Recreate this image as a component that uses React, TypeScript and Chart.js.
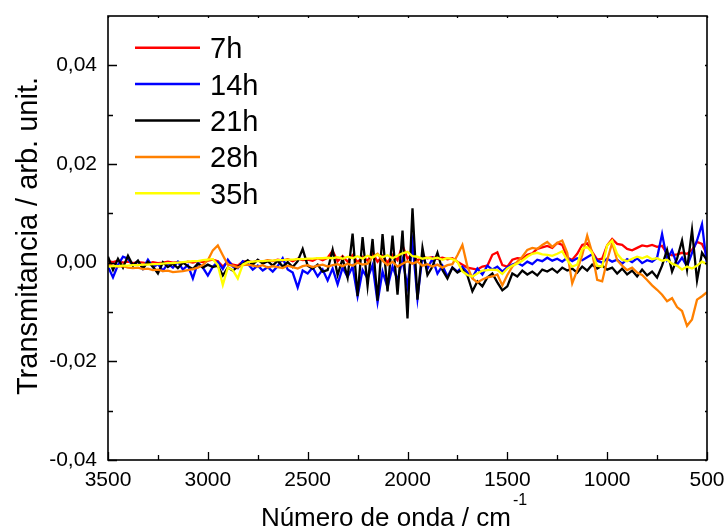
import React, { useEffect, useRef } from "react";
import { Chart, registerables } from "chart.js";

Chart.register(...registerables);

// Wavenumber grid (cm^-1)
const wavenumbers = [
  3500, 3475, 3450, 3425, 3400, 3375, 3350, 3325, 3300, 3275,
  3250, 3225, 3200, 3175, 3150, 3125, 3100, 3075, 3050, 3025,
  3000, 2975, 2950, 2925, 2900, 2875, 2850, 2825, 2800, 2775,
  2750, 2725, 2700, 2675, 2650, 2625, 2600, 2575, 2550, 2525,
  2500, 2475, 2450, 2425, 2400, 2375, 2350, 2325, 2300, 2275,
  2250, 2225, 2200, 2175, 2150, 2125, 2100, 2075, 2050, 2025,
  2000, 1975, 1950, 1925, 1900, 1875, 1850, 1825, 1800, 1775,
  1750, 1725, 1700, 1675, 1650, 1625, 1600, 1575, 1550, 1525,
  1500, 1475, 1450, 1425, 1400, 1375, 1350, 1325, 1300, 1275,
  1250, 1225, 1200, 1175, 1150, 1125, 1100, 1075, 1050, 1025,
  1000, 975, 950, 925, 900, 875, 850, 825, 800, 775,
  750, 725, 700, 675, 650, 625, 600, 575, 550, 525,
  500,
];

// Transmitancia values, in units of 10^-3 arb. unit.
const t7h = [
  0.3, 0.1, 0.4, 0.0, 0.2, -0.1, 0.1, 0.0, -0.2, 0.1,
  -0.1, 0.0, 0.2, 0.0, 0.1, -0.1, 0.2, 0.0, 0.3, 0.1,
  0.4, 0.6, 0.3, -0.8, 0.2, -0.4, -0.6, 0.2, 0.3, 0.1,
  0.4, 0.2, 0.5, 0.3, 0.6, 0.4, 0.7, 0.3, 0.8, 0.5,
  0.6, 0.4, 0.9, 0.5, 1.0, 2.4, 0.3, 1.3, 0.2, 1.5,
  0.1, 1.2, 0.4, 1.9, 0.2, 1.4, 0.0, 1.6, 0.5, 3.5,
  0.8, 1.8, 0.4, 1.2, 0.9, 1.1, 0.8, 1.0, 0.7, 0.9,
  0.2, -0.4, -1.0, -1.2, -1.4, -0.8, -0.6, 1.6, 2.1, -0.5,
  -0.8, 0.6, 0.9, 0.8, 1.6, 1.9, 2.8, 3.1, 3.4, 3.0,
  4.0, 3.6, 1.0, 0.6, 1.8, 3.6, 3.9, 2.2, 0.6, 0.8,
  3.5, 4.8, 3.8, 3.6, 2.8, 2.5, 3.0, 3.5, 3.3, 3.6,
  3.2, 3.4, 1.8, 1.5, 1.7, 2.0, 1.8, 2.6, 4.2, 3.8,
  1.6,
];

const t14h = [
  -0.8, -3.0, -0.5, 1.2, 0.8, -0.6, 0.3, -1.2, 0.6, -0.9,
  -0.3, -1.6, -0.2, -1.0, 0.2, -1.4, -0.5, -3.2, 0.0, -1.0,
  -2.6, -0.8, 0.2, -1.3, 0.6, -0.8, -1.1, 0.3, -0.2, -1.4,
  -0.6, -1.6, -0.9, -1.8, -0.7, 0.9, -1.4, -2.0, -5.0, -1.6,
  -2.2, -1.0, -2.8, -1.4, -3.6, -1.2, -4.4, -1.0, -2.9, -0.8,
  -6.8, -1.5, -3.2, -0.5, -8.0, -1.8, -5.0, -0.8, -3.5, 0.5,
  -4.8, 4.0, -7.2, 1.5, -1.2, 0.8, -2.2, -0.6, -2.8, -1.0,
  -1.8, -0.8, -2.0, -3.0, -1.2, -2.4, -0.6, -1.4, -0.8, -1.8,
  -0.9, -0.4, 0.0, -0.6, 0.2, -0.3, 0.6, 0.3, 1.0, 0.4,
  0.8, 0.2, 1.0, 0.3, 0.9, 0.5, 1.1, 1.7, 0.4, 0.0,
  0.8, 0.2, 0.6, -0.2, 0.7, 0.1, 0.9, -0.1, 0.5, 0.2,
  1.0, 5.8, 0.6, 2.5, -0.4, 1.0, -0.8, 2.0, 4.5, 7.8,
  -0.5,
];

const t21h = [
  1.2, -1.5, 0.8, -1.0, 1.4, -0.6, 0.4, -1.2, 0.2, -0.8,
  -2.2, 0.1, -0.9, -0.2, -1.1, 0.0, -0.7, -1.3, -0.2, -1.0,
  -0.4, -0.9, -0.6, -2.6, -1.0, -1.6, -0.8, -0.3, 0.5, -0.4,
  0.6, -0.2, 0.3, -0.6, 0.4, -0.8, 0.1, -0.9, 0.3, 2.8,
  -0.6, -1.2, -0.4, -1.8, -1.5, 2.6, -2.5, 0.8, -3.0, 5.9,
  -6.8, 5.2, -4.7, 4.8, -7.7, 5.8, -5.8, 5.5, -6.5, 6.5,
  -11.3, 11.0, -7.5, 3.0, -2.5, -0.8, 2.0, -1.5, -3.2, -1.0,
  -2.0, -1.4, -2.6, -5.8, -3.8, -4.8, -3.0, -2.2, -4.0, -5.6,
  -4.8, -2.2, -2.8, -1.6, -2.4, -1.8, -2.6, -1.4, -1.8, -1.2,
  -2.0, -1.0, -1.6, -1.2, -2.0, -0.8, -1.6, -0.4, -1.2, -0.6,
  -1.4, -1.0, -2.2, -1.2, -2.4, -1.6, -2.8, -1.4, -2.6, -1.8,
  -3.0, -0.6, 2.6, -1.8, 0.8, 4.5, -1.4, 6.6, -3.6, 2.0,
  0.5,
];

const t28h = [
  -0.4, -0.6, -0.8, -0.7, -1.0, -1.1, -1.0, -1.3, -1.2, -1.5,
  -1.4, -1.7, -1.6, -1.9, -1.8, -1.7, -1.5, -1.3, -1.0, -0.5,
  0.5, 2.5, 3.5, 1.5, -0.4, -0.6, -1.0, -0.5, -0.4, -0.6,
  -0.8, -0.5, -1.0, -0.7, -0.9, -1.1, -0.6, -0.9, -1.2, -0.7,
  -0.5, -0.9, -0.6, -0.4, -0.8, -0.5, -0.3, -0.7, -0.2, -0.6,
  0.0, -0.4, -0.2, 1.2, 1.8, 0.4, -0.5, 0.2, -0.8, -0.2,
  0.3, -0.2, 0.2, -0.6, -0.3, -0.8, -0.4, -1.0, -0.5, -0.3,
  1.5, 3.6, -0.8, -3.2, -4.0, -3.4, -3.0, -2.8, -2.4, -4.6,
  -2.5, -0.8, 0.2, 1.2, 2.6, 3.0, 2.8, 3.6, 4.2, 3.2,
  4.0, 4.5, 2.0, -4.2, -1.5, 1.5, 5.5, 2.0, -3.5, -3.8,
  0.5, 4.0, 0.5, -0.6, -1.5, -1.0, -2.0, -2.5, -3.5, -4.6,
  -5.5, -6.5, -7.8, -7.2, -9.0, -9.8, -12.8, -11.5, -7.5, -6.8,
  -6.0,
];

const t35h = [
  -0.8, -0.7, -0.7, -0.6, -0.6, -0.5, -0.5, -0.4, -0.4, -0.3,
  -0.3, -0.2, -0.1, -0.1, 0.0, 0.1, 0.2, 0.3, 0.3, 0.5,
  0.6, 0.7, -0.5, -4.5, -1.0, -1.5, -3.2, -0.4, 0.1, 0.2,
  0.3, 0.3, 0.4, 0.4, 0.5, 0.5, 0.6, 0.6, 0.7, 0.7,
  0.8, 0.8, 0.9, 0.9, 1.0, 0.9, 1.1, 0.8, 1.2, 0.9,
  1.3, 0.8, 1.4, 1.0, 1.6, 1.1, 1.5, 0.9, 1.4, 1.9,
  2.2, 1.3, 1.2, 0.8, 1.0, 0.8, 1.0, 0.6, 0.9, 0.7,
  0.2, -1.8, -2.5, -2.8, -2.2, -1.6, -1.5, -1.4, -1.5, -2.3,
  -1.2, -0.6, -0.2, 0.4, 1.2, 1.8, 2.0, 1.7, 1.6, 1.4,
  1.8, 2.3, 0.5, -0.8, -0.4, 2.8, 3.2, 2.0, -0.6, -0.8,
  3.5, 4.5, 1.8, 0.6, 0.3, 0.8, 1.2, 0.9, 1.3, 0.7,
  0.9, 0.4, 0.6, -0.2, -0.6, -1.4, -0.8, -1.2, -0.6, 0.2,
  -0.3,
];

const seriesLabels = ["7h", "14h", "21h", "28h", "35h"];
const seriesValues = [t7h, t14h, t21h, t28h, t35h];
const seriesColors = ["#ff0000", "#0000ff", "#000000", "#ff8000", "#ffff00"];
const seriesOrder = [5, 4, 3, 2, 1]; // 35h drawn on top

const xTicks = [3500, 3000, 2500, 2000, 1500, 1000, 500];
const xMinorTicks = [3250, 2750, 2250, 1750, 1250, 750];
const yTicks = [-0.04, -0.02, 0.0, 0.02, 0.04];
const yMinorTicks = [-0.03, -0.01, 0.01, 0.03];

const xTitle = "Número de onda / cm";
const xTitleSup = "-1";
const yTitle = "Transmitancia / arb. unit.";

const FONT = '"Liberation Sans", Arial, Helvetica, sans-serif';

const framePlugin = {
  id: "frameAndLabels",
  afterDraw(chart: any) {
    const { ctx, chartArea: a, scales } = chart;
    const xs = scales.x;
    const ys = scales.y;
    ctx.save();
    ctx.strokeStyle = "#000";
    ctx.fillStyle = "#000";

    // Frame
    ctx.lineWidth = 1.6;
    ctx.strokeRect(a.left, a.top, a.right - a.left, a.bottom - a.top);

    // Inward ticks
    ctx.lineWidth = 1.3;
    ctx.beginPath();
    for (const v of xTicks) {
      const px = Math.round(xs.getPixelForValue(v)) + 0.5;
      ctx.moveTo(px, a.bottom);
      ctx.lineTo(px, a.bottom - 8);
      ctx.moveTo(px, a.top);
      ctx.lineTo(px, a.top + 2);
    }
    for (const v of xMinorTicks) {
      const px = Math.round(xs.getPixelForValue(v)) + 0.5;
      ctx.moveTo(px, a.bottom);
      ctx.lineTo(px, a.bottom - 5);
      ctx.moveTo(px, a.top);
      ctx.lineTo(px, a.top + 2);
    }
    for (const v of yTicks) {
      const py = Math.round(ys.getPixelForValue(v)) + 0.5;
      ctx.moveTo(a.left, py);
      ctx.lineTo(a.left + 9, py);
      ctx.moveTo(a.right, py);
      ctx.lineTo(a.right - 2, py);
    }
    for (const v of yMinorTicks) {
      const py = Math.round(ys.getPixelForValue(v)) + 0.5;
      ctx.moveTo(a.left, py);
      ctx.lineTo(a.left + 5, py);
      ctx.moveTo(a.right, py);
      ctx.lineTo(a.right - 2, py);
    }
    ctx.stroke();

    // Y title
    ctx.font = `29px ${FONT}`;
    ctx.save();
    ctx.translate(37, 236);
    ctx.rotate(-Math.PI / 2);
    ctx.textAlign = "center";
    ctx.textBaseline = "alphabetic";
    ctx.fillText(yTitle, 0, 0);
    ctx.restore();

    // X title with superscript
    ctx.font = `26px ${FONT}`;
    const w = ctx.measureText(xTitle).width;
    ctx.font = `16px ${FONT}`;
    const ws = ctx.measureText(xTitleSup).width;
    const total = w + 2 + ws;
    const startX = 394 - total / 2;
    ctx.textAlign = "left";
    ctx.textBaseline = "alphabetic";
    ctx.font = `26px ${FONT}`;
    ctx.fillText(xTitle, startX, 526);
    ctx.font = `16px ${FONT}`;
    ctx.fillText(xTitleSup, startX + w + 2, 505);

    // Legend
    ctx.font = `29px ${FONT}`;
    seriesLabels.forEach((lab, k) => {
      const y = 47.7 + 36.4 * k;
      ctx.strokeStyle = seriesColors[k];
      ctx.lineWidth = 2.5;
      ctx.beginPath();
      ctx.moveTo(135, y);
      ctx.lineTo(200, y);
      ctx.stroke();
      ctx.fillStyle = "#000";
      ctx.fillText(lab, 210, y + 10.5);
    });

    ctx.restore();
  },
};

function fmtY(v: number): string {
  const s = Math.abs(v) < 1e-9 ? "0.00" : v.toFixed(2);
  return s.replace(".", ",");
}

export default function App() {
  const ref = useRef<HTMLCanvasElement>(null);

  useEffect(() => {
    const canvas = ref.current;
    if (!canvas) return;
    const chart = new Chart(canvas, {
      type: "line",
      data: {
        datasets: seriesValues.map((vals, k) => ({
          label: seriesLabels[k],
          data: wavenumbers.map((x, i) => ({ x, y: vals[i] / 1000 })),
          borderColor: seriesColors[k],
          backgroundColor: seriesColors[k],
          borderWidth: 2.3,
          pointRadius: 0,
          fill: false,
          tension: 0,
          order: seriesOrder[k],
        })),
      },
      options: {
        animation: false,
        responsive: false,
        devicePixelRatio: 1,
        layout: { padding: { top: 16, right: 21, left: 0, bottom: 0 } },
        plugins: {
          legend: { display: false },
          tooltip: { enabled: false },
        },
        scales: {
          x: {
            type: "linear",
            reverse: true,
            min: 500,
            max: 3500,
            grid: { display: false, drawTicks: false },
            border: { display: false },
            afterBuildTicks: (scale: any) => {
              scale.ticks = xTicks.map((v) => ({ value: v }));
            },
            afterFit: (scale: any) => {
              scale.height = 69;
              scale.paddingLeft = 0;
              scale.paddingRight = 0;
            },
            ticks: {
              color: "#000",
              font: { family: FONT, size: 21 },
              padding: 8,
              maxRotation: 0,
              autoSkip: false,
              callback: (v: any) => String(v),
            },
          },
          y: {
            type: "linear",
            min: -0.04,
            max: 0.05,
            grid: { display: false, drawTicks: false },
            border: { display: false },
            afterBuildTicks: (scale: any) => {
              scale.ticks = yTicks.map((v) => ({ value: v }));
            },
            afterFit: (scale: any) => {
              scale.width = 108;
              scale.paddingTop = 0;
              scale.paddingBottom = 0;
            },
            ticks: {
              color: "#000",
              font: { family: FONT, size: 21 },
              padding: 11,
              autoSkip: false,
              callback: (v: any) => fmtY(Number(v)),
            },
          },
        },
      },
      plugins: [framePlugin],
    });
    return () => chart.destroy();
  }, []);

  return (
    <div
      style={{
        position: "absolute",
        left: 0,
        top: 0,
        width: 728,
        height: 529,
        background: "#fff",
      }}
    >
      <canvas ref={ref} width={728} height={529} style={{ display: "block" }} />
    </div>
  );
}
